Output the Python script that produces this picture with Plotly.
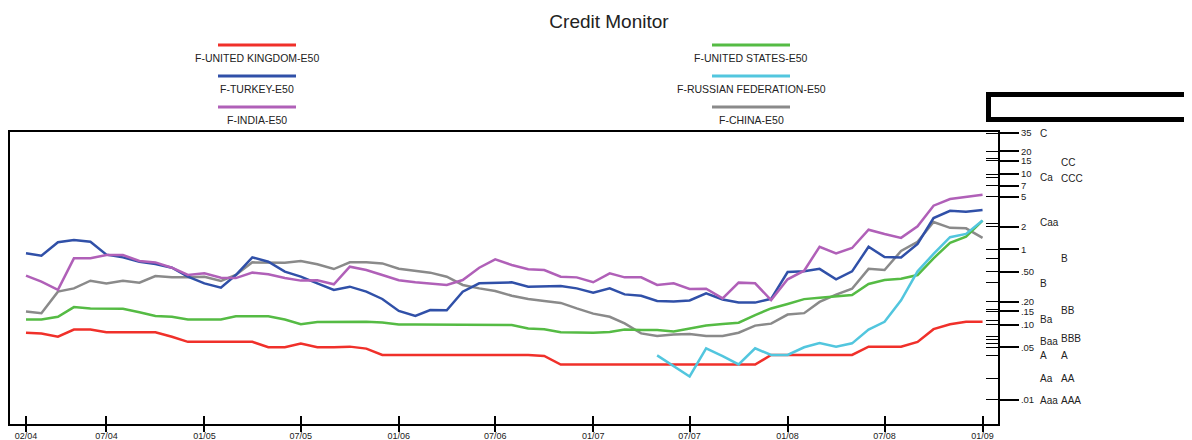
import math
import pandas as pd
import plotly.graph_objects as go

# ---------------- data (monthly, 02/2004 .. 01/2009) ----------------
months = pd.date_range("2004-02-01", "2009-01-01", freq="MS")

uk = [0.078, 0.076, 0.069, 0.086, 0.086, 0.079, 0.079, 0.079, 0.079, 0.069,
      0.059, 0.059, 0.059, 0.059, 0.059, 0.050, 0.050, 0.056, 0.050, 0.050,
      0.051, 0.048, 0.0395, 0.0395, 0.0395, 0.0395, 0.0395, 0.0395, 0.0395, 0.0395,
      0.0395, 0.0395, 0.0384, 0.0295, 0.0295, 0.0295, 0.0295, 0.0295, 0.0295, 0.0295,
      0.0295, 0.0295, 0.0295, 0.0295, 0.0295, 0.0295, 0.0395, 0.0395, 0.0395, 0.0395,
      0.0395, 0.0395, 0.051, 0.051, 0.051, 0.059, 0.087, 0.101, 0.109, 0.109]

us = [0.117, 0.117, 0.127, 0.171, 0.164, 0.164, 0.162, 0.146, 0.130, 0.127,
      0.117, 0.117, 0.117, 0.129, 0.130, 0.129, 0.117, 0.101, 0.108, 0.109,
      0.109, 0.109, 0.107, 0.100, 0.100, 0.100, 0.100, 0.100, 0.100, 0.100,
      0.099, 0.089, 0.087, 0.079, 0.078, 0.078, 0.080, 0.086, 0.085, 0.085,
      0.081, 0.088, 0.097, 0.102, 0.106, 0.134, 0.164, 0.188, 0.218, 0.227,
      0.235, 0.247, 0.346, 0.391, 0.407, 0.456, 0.76, 1.22, 1.47, 2.40]

turkey = [0.884, 0.823, 1.24, 1.33, 1.26, 0.85, 0.782, 0.685, 0.638, 0.570,
          0.433, 0.353, 0.309, 0.456, 0.782, 0.685, 0.505, 0.433, 0.353, 0.288,
          0.319, 0.274, 0.219, 0.152, 0.130, 0.156, 0.155, 0.274, 0.353, 0.360,
          0.364, 0.319, 0.319, 0.326, 0.303, 0.266, 0.303, 0.252, 0.242, 0.206,
          0.202, 0.209, 0.260, 0.216, 0.196, 0.196, 0.220, 0.50, 0.51, 0.55,
          0.40, 0.51, 1.08, 0.79, 0.78, 1.18, 2.6, 3.25, 3.16, 3.33]

india = [0.447, 0.372, 0.290, 0.759, 0.759, 0.84, 0.84, 0.70, 0.67, 0.57,
         0.456, 0.48, 0.42, 0.415, 0.49, 0.465, 0.415, 0.384, 0.388, 0.343,
         0.588, 0.531, 0.456, 0.388, 0.365, 0.353, 0.336, 0.391, 0.57, 0.736,
         0.619, 0.543, 0.531, 0.433, 0.424, 0.365, 0.48, 0.424, 0.424, 0.336,
         0.354, 0.298, 0.30, 0.223, 0.361, 0.354, 0.212, 0.40, 0.52, 1.08,
         0.88, 1.04, 1.82, 1.60, 1.42, 2.02, 3.8, 4.65, 4.95, 5.3]

china = [0.149, 0.142, 0.274, 0.303, 0.383, 0.353, 0.383, 0.360, 0.442, 0.425,
         0.425, 0.433, 0.38, 0.456, 0.671, 0.671, 0.664, 0.70, 0.632, 0.547,
         0.671, 0.671, 0.65, 0.553, 0.52, 0.49, 0.433, 0.336, 0.303, 0.28,
         0.242, 0.219, 0.206, 0.194, 0.164, 0.140, 0.127, 0.104, 0.0765, 0.0706,
         0.074, 0.075, 0.0706, 0.0706, 0.078, 0.097, 0.103, 0.136, 0.142, 0.20,
         0.25, 0.30, 0.55, 0.53, 0.95, 1.26, 2.3, 1.93, 1.90, 1.42]

russia_months = months[39:]
russia = [0.0390, 0.0278, 0.0205, 0.0484, 0.0382, 0.0296, 0.0484, 0.0395, 0.0395, 0.050,
          0.057, 0.051, 0.0564, 0.086, 0.109, 0.21, 0.51, 0.87, 1.45, 1.60, 2.42]

xtick_dates = ["2004-02-01", "2004-07-01", "2005-01-01", "2005-07-01", "2006-01-01",
               "2006-07-01", "2007-01-01", "2007-07-01", "2008-01-01", "2008-07-01",
               "2009-01-01"]
xtick_text = ["02/04", "07/04", "01/05", "07/05", "01/06", "07/06", "01/07",
              "07/07", "01/08", "07/08", "01/09"]

ytick_vals = [35, 20, 15, 10, 7, 5, 2, 1, 0.5, 0.2, 0.15, 0.1, 0.05, 0.01]
ytick_text = ["35", "20", "15", "10", "7", "5", "2", "1", ".50", ".20", ".15",
              ".10", ".05", ".01"]
inner_tick_vals = [35, 20, 16, 15, 10, 9.1, 7, 5, 2.2, 2, 1, 0.76, 0.5,
                   0.365, 0.2, 0.16, 0.15, 0.115, 0.1, 0.069, 0.0625, 0.0565,
                   0.05, 0.0383, 0.0191, 0.01]

moody_labels = ["C", "Ca", "Caa", "B", "Ba", "Baa", "A", "Aa", "Aaa"]
moody_levels = [35, 9.0, 2.26, 0.353, 0.118, 0.0601, 0.0383, 0.0194, 0.0097]
sp_labels = ["CC", "CCC", "B", "BB", "BBB", "A", "AA", "AAA"]
sp_levels = [14.1, 8.6, 0.76, 0.156, 0.066, 0.0383, 0.0194, 0.0097]

# ---------------- styling ----------------
FONT = "Liberation Sans, Arial, sans-serif"
OFF = 8                      # page body margin of the viewer
W, H = 1192 - OFF, 440 - OFF
# plot-area box in screenshot pixels
SL, SR, ST, SB = 10, 998, 132, 424

def px_x(px):
    return (px - SL) / (SR - SL)

def px_y(py):
    return (SB - py) / (SB - ST)

series = [
    ("F-CHINA-E50", months, china, "#8a8a8a"),
    ("F-UNITED STATES-E50", months, us, "#55bb44"),
    ("F-UNITED KINGDOM-E50", months, uk, "#f0302a"),
    ("F-RUSSIAN FEDERATION-E50", russia_months, russia, "#52c6de"),
    ("F-TURKEY-E50", months, turkey, "#3050a8"),
    ("F-INDIA-E50", months, india, "#b060b8"),
]

fig = go.Figure()
for name, xs, ys, color in series:
    fig.add_trace(go.Scatter(x=list(xs), y=ys, mode="lines", name=name,
                             line=dict(color=color, width=2.5), showlegend=False))
# helper traces so the overlay axes (extra tick marks) are drawn
fig.add_trace(go.Scatter(x=[], y=[], xaxis="x2", yaxis="y2", showlegend=False,
                         hoverinfo="skip"))
fig.add_trace(go.Scatter(x=[], y=[], xaxis="x3", yaxis="y2", showlegend=False,
                         hoverinfo="skip"))

xrange_ = ["2004-01-02", "2009-01-30"]
yrange_ = [-2.320, 1.558]

shapes = []
annotations = []

legend_items = [
    ("F-UNITED KINGDOM-E50", "#f0302a", 257, 0),
    ("F-TURKEY-E50", "#3050a8", 257, 1),
    ("F-INDIA-E50", "#b060b8", 257, 2),
    ("F-UNITED STATES-E50", "#55bb44", 751, 0),
    ("F-RUSSIAN FEDERATION-E50", "#52c6de", 751, 1),
    ("F-CHINA-E50", "#8a8a8a", 751, 2),
]
for text, color, cx, row in legend_items:
    ly = 45 + row * 31
    shapes.append(dict(type="line", xref="paper", yref="paper",
                       x0=px_x(cx - 39), x1=px_x(cx + 39), y0=px_y(ly), y1=px_y(ly),
                       line=dict(color=color, width=3)))
    annotations.append(dict(text=text, xref="paper", yref="paper",
                            x=px_x(cx), y=px_y(ly + 13), xanchor="center",
                            yanchor="middle", showarrow=False,
                            font=dict(family=FONT, size=10.5, color="#222")))

shapes.append(dict(type="rect", xref="paper", yref="paper",
                   x0=px_x(988.5), x1=px_x(1205), y0=px_y(119.5), y1=px_y(94.5),
                   line=dict(color="black", width=5), fillcolor="rgba(0,0,0,0)"))

for lab, lev in zip(moody_labels, moody_levels):
    annotations.append(dict(text=lab, xref="paper", yref="y", x=px_x(1038),
                            y=math.log10(lev), xanchor="left", yanchor="middle",
                            showarrow=False,
                            font=dict(family=FONT, size=10, color="#222")))
for lab, lev in zip(sp_labels, sp_levels):
    annotations.append(dict(text=lab, xref="paper", yref="y", x=px_x(1059),
                            y=math.log10(lev), xanchor="left", yanchor="middle",
                            showarrow=False,
                            font=dict(family=FONT, size=10, color="#222")))

fig.update_layout(
    width=W, height=H, autosize=False,
    margin=dict(l=SL - OFF, r=W - (SR - OFF), t=ST - OFF, b=H - (SB - OFF), pad=0),
    paper_bgcolor="white", plot_bgcolor="white",
    showlegend=False,
    title=dict(text="Credit Monitor", x=(609 - OFF) / W, xref="container",
               xanchor="center", y=1 - (21 - OFF) / H, yref="container",
               yanchor="middle", font=dict(family=FONT, size=19, color="#222")),
    # labelled axis: short outer ticks so the labels sit close to the line
    xaxis=dict(type="date", range=xrange_, tickmode="array", tickvals=xtick_dates,
               ticktext=xtick_text, ticks="outside", ticklen=2, tickwidth=2,
               tickcolor="black", showline=True, linecolor="black", linewidth=2,
               mirror=True, showgrid=False, zeroline=False, anchor="y",
               automargin=False,
               tickfont=dict(family=FONT, size=9, color="#222")),
    # inner half of the crossing ticks
    xaxis2=dict(type="date", range=xrange_, overlaying="x", anchor="y", side="bottom",
                tickmode="array", tickvals=xtick_dates, ticks="inside", ticklen=8,
                tickwidth=2, tickcolor="black", showticklabels=False,
                showline=False, showgrid=False, zeroline=False, automargin=False),
    # outer half of the crossing ticks
    xaxis3=dict(type="date", range=xrange_, overlaying="x", anchor="y", side="bottom",
                tickmode="array", tickvals=xtick_dates, ticks="outside", ticklen=7,
                tickwidth=2, tickcolor="black", showticklabels=False,
                showline=False, showgrid=False, zeroline=False, automargin=False),
    yaxis=dict(type="log", range=yrange_, side="right", tickmode="array",
               tickvals=ytick_vals, ticktext=ytick_text, ticks="outside", ticklen=19,
               tickwidth=1.5, tickcolor="black", showline=True, linecolor="black",
               linewidth=2, mirror=True, showgrid=False, zeroline=False, anchor="x",
               automargin=False,
               tickfont=dict(family=FONT, size=9.5, color="#222")),
    yaxis2=dict(type="log", range=yrange_, overlaying="y", side="right", anchor="x",
                tickmode="array", tickvals=inner_tick_vals, ticks="inside",
                ticklen=12, tickwidth=1.3, tickcolor="black", showticklabels=False,
                showline=False, showgrid=False, zeroline=False, automargin=False),
    shapes=shapes,
    annotations=annotations,
)

fig.write_html("out.html")
